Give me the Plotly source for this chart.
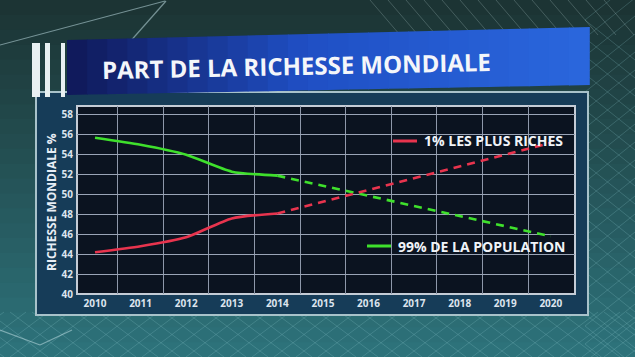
import plotly.graph_objects as go

# ---- data ----
years = [2010, 2011, 2012, 2013, 2014, 2015, 2016, 2017, 2018, 2019, 2020]
tick_labels = [str(y) for y in years]
hist_years = [2010, 2011, 2012, 2013, 2014]
proj_years = [2014, 2020]
rich_hist = [44.2, 44.8, 45.7, 47.6, 48.1]
rich_proj = [48.1, 55.2]
pop_hist = [55.7, 55.0, 54.0, 52.3, 51.9]
pop_proj = [51.9, 45.8]
y_ticks = [40, 42, 44, 46, 48, 50, 52, 54, 56, 58]
title_text = "PART DE LA RICHESSE MONDIALE"
rich_label = "1% LES PLUS RICHES"
pop_label = "99% DE LA POPULATION"
y_title = "RICHESSE MONDIALE %"

RED = "#e8344e"
GREEN = "#3fe02c"

W, H = 635, 357
L, R, T, B = 77, 575, 106, 294


def X(px):
    return (px - L) / (R - L)


def Y(py):
    return (B - py) / (B - T)


def hexmix(c1, c2, t):
    a = [int(c1[i:i + 2], 16) for i in (1, 3, 5)]
    b = [int(c2[i:i + 2], 16) for i in (1, 3, 5)]
    return "#%02x%02x%02x" % tuple(round(a[k] + (b[k] - a[k]) * t) for k in range(3))


shapes = []
# background vertical gradient
N = 24
for i in range(N):
    y0 = i * H / N
    y1 = (i + 1) * H / N + 1
    shapes.append(dict(type="rect", xref="paper", yref="paper", layer="below",
                       x0=X(0), x1=X(W), y0=Y(y1), y1=Y(y0), line_width=0,
                       fillcolor=hexmix("#1c3434", "#2d727a", i / (N - 1))))

# decorative mesh lines (bottom + right)
mesh_col = "rgba(150,210,215,0.22)"
for k in range(-10, 30):
    x0 = 120 + k * 22
    shapes.append(dict(type="line", xref="paper", yref="paper", layer="below",
                       x0=X(x0), y0=Y(357), x1=X(x0 + 60), y1=Y(312),
                       line=dict(color=mesh_col, width=1)))
    shapes.append(dict(type="line", xref="paper", yref="paper", layer="below",
                       x0=X(x0 + 60), y0=Y(357), x1=X(x0), y1=Y(312),
                       line=dict(color=mesh_col, width=1)))
for k in range(0, 20):
    y0 = 20 + k * 18
    shapes.append(dict(type="line", xref="paper", yref="paper", layer="below",
                       x0=X(585), y0=Y(y0), x1=X(635), y1=Y(y0 - 40),
                       line=dict(color=mesh_col, width=1)))
    shapes.append(dict(type="line", xref="paper", yref="paper", layer="below",
                       x0=X(585), y0=Y(y0), x1=X(635), y1=Y(y0 + 40),
                       line=dict(color=mesh_col, width=1)))
for k in range(0, 14):
    x0 = 370 + k * 18
    shapes.append(dict(type="line", xref="paper", yref="paper", layer="below",
                       x0=X(x0), y0=Y(0), x1=X(x0 + 30), y1=Y(35),
                       line=dict(color="rgba(190,215,215,0.25)", width=1)))
# network lines top-left
net_col = "rgba(190,220,225,0.55)"
shapes.append(dict(type="line", xref="paper", yref="paper", layer="below",
                   x0=X(0), y0=Y(45), x1=X(165), y1=Y(1), line=dict(color=net_col, width=1.2)))
shapes.append(dict(type="line", xref="paper", yref="paper", layer="below",
                   x0=X(128), y0=Y(44), x1=X(166), y1=Y(1), line=dict(color=net_col, width=1.2)))
shapes.append(dict(type="line", xref="paper", yref="paper", layer="below",
                   x0=X(40), y0=Y(345), x1=X(72), y1=Y(330), line=dict(color=net_col, width=1.2)))
shapes.append(dict(type="line", xref="paper", yref="paper", layer="below",
                   x0=X(0), y0=Y(330), x1=X(40), y1=Y(345), line=dict(color=net_col, width=1.2)))

# frame panel
shapes.append(dict(type="rect", xref="paper", yref="paper", layer="below",
                   x0=X(36), x1=X(588), y0=Y(315), y1=Y(92),
                   fillcolor="#163c58", line=dict(color="#a8c2ca", width=2)))
# plot area
shapes.append(dict(type="rect", xref="paper", yref="paper", layer="below",
                   x0=X(L), x1=X(R), y0=Y(B), y1=Y(T),
                   fillcolor="#0b1320", line=dict(color="#c4ccd6", width=2)))

# title bar (skewed) as strips with gradient
NS = 26
xa, xb = 67, 589


def top(p):
    return 40 + (27 - 40) * (p - xa) / (xb - xa)


def bot(p):
    return 95 + (85 - 95) * (p - xa) / (xb - xa)


for i in range(NS):
    p0 = xa + (xb - xa) * i / NS
    p1 = xa + (xb - xa) * (i + 1) / NS + 0.8
    t = i / (NS - 1)
    col = hexmix("#101a5c", "#1f4fc4", min(1, t * 2.2)) if t < 0.45 else hexmix("#1f4fc4", "#2a66dc", (t - 0.45) / 0.55)
    path = "M %f %f L %f %f L %f %f L %f %f Z" % (X(p0), Y(top(p0)), X(p1), Y(top(p1)),
                                                X(p1), Y(bot(p1)), X(p0), Y(bot(p0)))
    shapes.append(dict(type="path", xref="paper", yref="paper", layer="below",
                       path=path, fillcolor=col, line_width=0))
# white bars at left of title
for (a, b) in [(32, 40), (45, 50), (61, 65)]:
    shapes.append(dict(type="rect", xref="paper", yref="paper", layer="below",
                       x0=X(a), x1=X(b), y0=Y(97), y1=Y(43),
                       fillcolor="#e8f0f2", line_width=0))

# legend sample segments
shapes.append(dict(type="line", xref="paper", yref="paper",
                   x0=X(393), x1=X(417), y0=Y(141), y1=Y(141),
                   line=dict(color=RED, width=3)))
shapes.append(dict(type="line", xref="paper", yref="paper",
                   x0=X(367), x1=X(391), y0=Y(246), y1=Y(246),
                   line=dict(color=GREEN, width=3)))

fig = go.Figure()
fig.add_trace(go.Scatter(x=hist_years, y=pop_hist, mode="lines",
                         line=dict(color=GREEN, width=2.6, shape="spline", smoothing=0.6),
                         showlegend=False, hoverinfo="skip"))
fig.add_trace(go.Scatter(x=proj_years, y=pop_proj, mode="lines",
                         line=dict(color=GREEN, width=2.6, dash="8px,6px"),
                         showlegend=False, hoverinfo="skip"))
fig.add_trace(go.Scatter(x=hist_years, y=rich_hist, mode="lines",
                         line=dict(color=RED, width=2.6, shape="spline", smoothing=0.6),
                         showlegend=False, hoverinfo="skip"))
fig.add_trace(go.Scatter(x=proj_years, y=rich_proj, mode="lines",
                         line=dict(color=RED, width=2.6, dash="8px,6px"),
                         showlegend=False, hoverinfo="skip"))

tick_font = dict(family="Open Sans", size=10, color="#dce4ee", weight="bold")
fig.update_xaxes(range=[2009.605, 2020.53], tickvals=years, ticktext=tick_labels,
                 showgrid=False, zeroline=False, showline=False, ticks="",
                 tickfont=tick_font, ticklabelstandoff=2,
                 minor=dict(tickvals=[y + 0.5 for y in years[:-1]], showgrid=True,
                            gridcolor="#8e98aa", gridwidth=1, ticks=""))
fig.update_yaxes(range=[40, 58.9], tickvals=y_ticks, showgrid=True,
                 gridcolor="#9aa4b6", gridwidth=1.3, zeroline=False, showline=False,
                 ticks="", tickfont=tick_font, ticklabelstandoff=3)

annotations = [
    dict(text="<b>" + title_text + "</b>", xref="paper", yref="paper",
         x=X(100), y=Y(66), xanchor="left", yanchor="middle", showarrow=False,
         textangle=-1.2, font=dict(family="Open Sans", size=24, color="#f4f6fa")),
    dict(text="<b>" + rich_label + "</b>", xref="paper", yref="paper",
         x=X(422), y=Y(140), xanchor="left", yanchor="middle", showarrow=False,
         font=dict(family="Open Sans", size=14, color="#f0f3f8")),
    dict(text="<b>" + pop_label + "</b>", xref="paper", yref="paper",
         x=X(396), y=Y(246), xanchor="left", yanchor="middle", showarrow=False,
         font=dict(family="Open Sans", size=14, color="#f0f3f8")),
    dict(text="<b>" + y_title + "</b>", xref="paper", yref="paper",
         x=X(51), y=Y(202), xanchor="center", yanchor="middle", showarrow=False,
         textangle=-90, font=dict(family="Open Sans", size=12, color="#e8eef6")),
]

fig.update_layout(width=W, height=H, margin=dict(l=L, r=W - R, t=T, b=H - B),
                  paper_bgcolor="#24484c", plot_bgcolor="rgba(0,0,0,0)",
                  shapes=shapes, annotations=annotations, showlegend=False)

fig.write_html("out.html", config={"displayModeBar": False},
               post_script="document.body.style.margin='0';document.body.style.overflow='hidden';")
